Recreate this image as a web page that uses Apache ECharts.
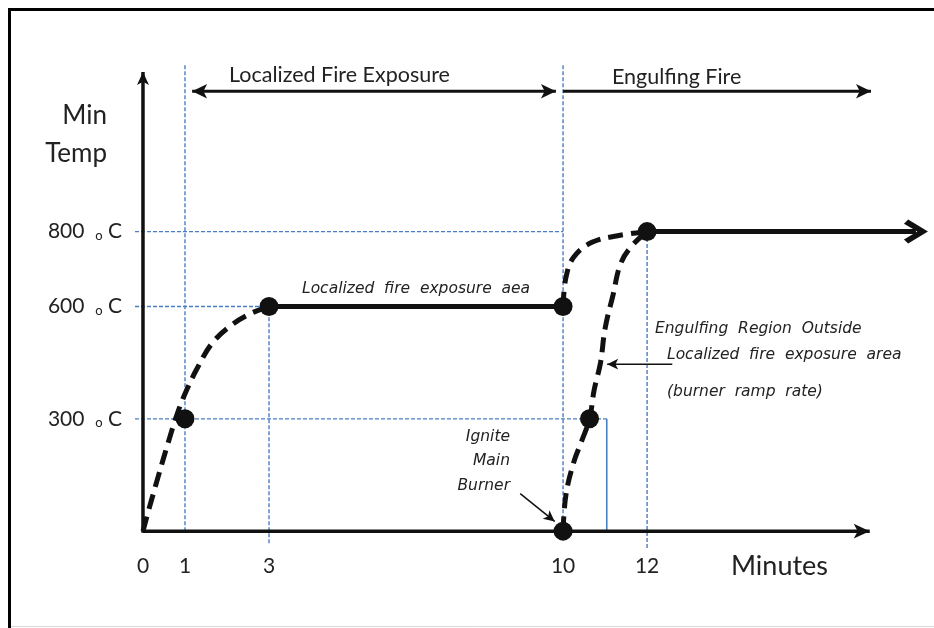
<!DOCTYPE html>
<html>
<head>
<meta charset="utf-8">
<script src="https://cdn.jsdelivr.net/npm/echarts@6/dist/echarts.min.js"></script>
<style>
  html, body { margin: 0; padding: 0; background: #fff; }
  #chart { width: 934px; height: 628px; }
</style>
</head>
<body>
<div id="chart"></div>
<script>
// ---------- data (minutes, °C) ----------
const xTicks = [0, 1, 3, 10, 12];
const yTicks = [300, 600, 800];

const localRamp = [[0, 0], [0.15, 62], [0.36, 145], [0.61, 240], [0.82, 315], [1.04, 377],
  [1.31, 439], [1.64, 501], [2.08, 548], [2.52, 579], [3, 600]];
const localPlateau = [[3, 600], [10, 600]];
const engulfRamp = [[10, 600], [10.07, 678], [10.26, 733], [10.7, 772], [11.3, 789], [12, 800]];
const burnerRamp = [[10, 0], [10.07, 98], [10.26, 186], [10.44, 240], [10.63, 300], [10.74, 377],
  [10.89, 449], [11.0, 541], [11.19, 631], [11.37, 714], [11.63, 761], [12, 800]];
const engulfPlateau = [[12, 800], [18.4, 800]];
const keyPoints = [[1, 300], [3, 600], [10, 600], [10, 0], [10.63, 300], [12, 800]];

const guideDashed = [
  [[1, 0], [1, 1245]],
  [[3, -32], [3, 600]],
  [[10, 0], [10, 1245]],
  [[12, -45], [12, 800]],
  [[-0.19, 800], [10, 800]],
  [[-0.19, 600], [3, 600]],
  [[-0.19, 300], [11.04, 300]]
];
const guideSolid = [[11.04, 300], [11.04, 0]];

const timeAxisLine = [[0, 0], [17.3, 0]];
const tempAxisLine = [[0, -4], [0, 1226]];
const phaseLocalized = [[1.17, 1175], [9.83, 1175]];
const phaseEngulfing = [[10, 1175], [17.33, 1175]];
const rampPointer = [[12.6, 446], [11.05, 446]];
const ignitePointer = [[8.98, 100], [9.8, 26]];

// ---------- styles ----------
const FONT = 'Lato, "Open Sans", sans-serif';
const IFONT = '"DejaVu Sans", sans-serif';
const BLUE = '#4a7ec4';
const INK = '#111';
const TXT = '#222';
const chevron = 'path://M10,0 L20,14 L16.5,17 L10,7.5 L3.5,17 L0,14 Z';

function arrowItem(pt, rot, size, sym) {
  return { value: pt, symbol: sym || 'arrow', symbolRotate: rot, symbolSize: size };
}
function arrowLine(d, width, z) {
  return {
    type: 'line', data: d, symbol: 'none', showSymbol: true, clip: false, z: z || 3,
    itemStyle: { color: INK }, lineStyle: { color: INK, width: width }
  };
}

const series = [];
guideDashed.forEach(seg => series.push({
  type: 'line', data: seg, symbol: 'none', clip: false, silent: true, z: 1,
  lineStyle: { color: BLUE, width: 1.4, type: [4, 2] }
}));
series.push({
  type: 'line', data: guideSolid, symbol: 'none', clip: false, silent: true, z: 1,
  lineStyle: { color: BLUE, width: 1.6 }
});
// axes with arrowheads
series.push(arrowLine([timeAxisLine[0], arrowItem(timeAxisLine[1], -90, [11, 16])], 3.5, 2));
series.push(arrowLine([tempAxisLine[0], arrowItem(tempAxisLine[1], 0, [9, 13])], 3.5, 2));

[localRamp, engulfRamp, burnerRamp].forEach(d => series.push({
  type: 'line', data: d, smooth: 0.4, symbol: 'none', clip: false, z: 3,
  lineStyle: { color: INK, width: 5, type: [15, 8] }
}));
series.push({
  type: 'line', data: localPlateau, symbol: 'none', clip: false, z: 3,
  lineStyle: { color: INK, width: 5 }
});
series.push(arrowLine([engulfPlateau[0], arrowItem(engulfPlateau[1], -90, [24, 24], chevron)], 5));
series.push({
  type: 'scatter', data: keyPoints, symbol: 'circle', symbolSize: 19, clip: false, z: 4,
  itemStyle: { color: INK, opacity: 1 }
});
series.push(arrowLine([arrowItem(phaseLocalized[0], 90, [11, 15]), arrowItem(phaseLocalized[1], -90, [11, 15])], 3));
series.push(arrowLine([phaseEngulfing[0], arrowItem(phaseEngulfing[1], -90, [11, 15])], 3));
series.push(arrowLine([rampPointer[0], arrowItem(rampPointer[1], 90, [8, 11])], 1.5));
series.push(arrowLine([ignitePointer[0], arrowItem(ignitePointer[1], -128.8, [8, 11])], 1.5));

function txt(x, y, text, opt) {
  return {
    type: 'text', x: x, y: y, z: 10,
    style: Object.assign({
      text: text, fill: TXT, font: '21px ' + FONT, textAlign: 'left', textVerticalAlign: 'middle'
    }, opt || {})
  };
}
const IT = 'italic 15.5px ' + IFONT;

const option = {
  animation: false,
  backgroundColor: '#fff',
  grid: { left: 135, right: 0, top: 65, bottom: 80 },
  xAxis: {
    type: 'value', min: -0.19, max: 18.83,
    name: 'Minutes', nameLocation: 'end', nameGap: -106,
    nameTextStyle: { fontFamily: FONT, fontSize: 27, color: TXT, align: 'right', verticalAlign: 'top', padding: [5, 0, 0, 0] },
    axisLine: { show: false, onZero: false },
    axisTick: { show: false },
    splitLine: { show: false },
    axisLabel: {
      customValues: xTicks,
      margin: 8, fontFamily: FONT, fontSize: 21, color: TXT,
      formatter: v => String(v)
    }
  },
  yAxis: {
    type: 'value', min: -45, max: 1245,
    name: 'Min\nTemp', nameLocation: 'end', nameGap: -32,
    nameTextStyle: { fontFamily: FONT, fontSize: 26, lineHeight: 38, color: TXT, align: 'right', verticalAlign: 'top', padding: [0, 28, 0, 0] },
    axisLine: { show: false, onZero: false },
    axisTick: { show: false },
    splitLine: { show: false },
    axisLabel: {
      customValues: yTicks,
      margin: 13, color: TXT,
      formatter: v => '{n|' + v + '  }{d|o}{n| C}',
      rich: {
        n: { fontFamily: FONT, fontSize: 21, color: TXT },
        d: { fontFamily: FONT, fontSize: 13, color: TXT, verticalAlign: 'bottom', padding: [6, 0, 0, 0] }
      }
    }
  },
  graphic: [
    { type: 'polyline', z: 0, shape: { points: [[9.5, 628], [9.5, 9.5], [934, 9.5]] }, style: { stroke: '#000', lineWidth: 3, fill: null } },
    { type: 'line', z: 0, shape: { x1: 11, y1: 626.5, x2: 934, y2: 626.5 }, style: { stroke: '#d8d8d8', lineWidth: 1 } },
    txt(229, 75, 'Localized Fire Exposure', { font: '21.5px ' + FONT }),
    txt(612, 77, 'Engulfing Fire', { font: '21.5px ' + FONT }),
    txt(302, 289, 'Localized  fire  exposure  aea', { font: IT }),
    txt(655, 329, 'Engulfing  Region  Outside', { font: IT }),
    txt(667, 355, 'Localized  fire  exposure  area', { font: IT }),
    txt(667, 392, '(burner  ramp  rate)', { font: IT }),
    txt(510, 437, 'Ignite', { font: IT, textAlign: 'right' }),
    txt(510, 461, 'Main', { font: IT, textAlign: 'right' }),
    txt(510, 486, 'Burner', { font: IT, textAlign: 'right' })
  ],
  series: series
};

const chart = echarts.init(document.getElementById('chart'), null, { renderer: 'canvas' });
chart.setOption(option);
</script>
</body>
</html>
